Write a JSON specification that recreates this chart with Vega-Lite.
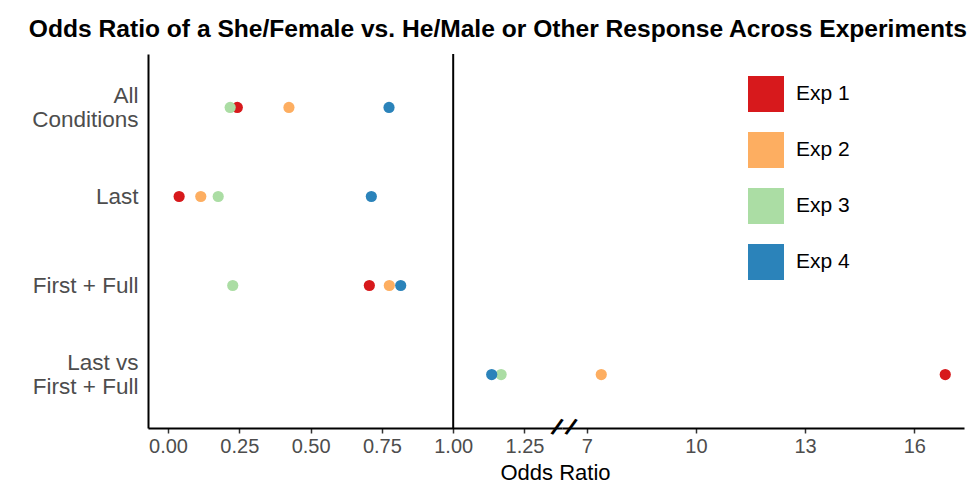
{
  "$schema": "https://vega.github.io/schema/vega-lite/v6.json",
  "padding": {"left": 28, "top": 17, "right": 4, "bottom": 4},
  "background": "white",
  "bounds": "flush",
  "title": {
    "text": "Odds Ratio of a She/Female vs. He/Male or Other Response Across Experiments",
    "font": "Liberation Sans",
    "fontSize": 24.6,
    "fontWeight": "bold",
    "color": "black",
    "anchor": "middle",
    "offset": 10
  },
  "datasets": {
    "pts": [
      {"cond": "All Conditions", "exp": "Exp 1", "odds": 0.243},
      {"cond": "Last", "exp": "Exp 1", "odds": 0.039},
      {"cond": "First + Full", "exp": "Exp 1", "odds": 0.706},
      {"cond": "Last vs First + Full", "exp": "Exp 1", "odds": 16.85},
      {"cond": "All Conditions", "exp": "Exp 2", "odds": 0.424},
      {"cond": "Last", "exp": "Exp 2", "odds": 0.115},
      {"cond": "First + Full", "exp": "Exp 2", "odds": 0.776},
      {"cond": "Last vs First + Full", "exp": "Exp 2", "odds": 7.40},
      {"cond": "All Conditions", "exp": "Exp 3", "odds": 0.218},
      {"cond": "Last", "exp": "Exp 3", "odds": 0.176},
      {"cond": "First + Full", "exp": "Exp 3", "odds": 0.227},
      {"cond": "Last vs First + Full", "exp": "Exp 3", "odds": 1.168},
      {"cond": "All Conditions", "exp": "Exp 4", "odds": 0.775},
      {"cond": "Last", "exp": "Exp 4", "odds": 0.713},
      {"cond": "First + Full", "exp": "Exp 4", "odds": 0.816},
      {"cond": "Last vs First + Full", "exp": "Exp 4", "odds": 1.135}
    ]
  },
  "config": {
    "view": {"stroke": null},
    "font": "Liberation Sans",
    "axis": {"grid": false}
  },
  "spacing": 0,
  "resolve": {"scale": {"x": "independent", "y": "shared", "color": "shared"}},
  "hconcat": [
    {
      "width": 414,
      "height": 374,
      "layer": [
        {
          "data": {"values": [{}]},
          "mark": {"type": "rule", "color": "black", "strokeWidth": 2},
          "encoding": {"x": {"datum": 1, "type": "quantitative"}}
        },
        {
          "data": {"name": "pts"},
          "transform": [{"filter": "datum.odds < 3"}],
          "mark": {"type": "point", "filled": true, "size": 125, "opacity": 1},
          "encoding": {
            "x": {
              "field": "odds",
              "type": "quantitative",
              "scale": {"domain": [-0.0701, 1.3815], "nice": false, "zero": false},
              "axis": {
                "values": [0, 0.25, 0.5, 0.75, 1, 1.25],
                "format": ".2f",
                "title": "Odds Ratio",
                "titleX": 407,
                "titleY": 51,
                "titleAlign": "center",
                "titleBaseline": "alphabetic",
                "titleFontSize": 22,
                "titleFontWeight": "normal",
                "titleColor": "black",
                "labelFontSize": 20,
                "labelColor": "#4d4d4d",
                "labelPadding": 3,
                "labelFlush": false,
                "labelOverlap": false,
                "tickColor": "#333333",
                "tickSize": 5,
                "tickWidth": 1.5,
                "domainColor": "black",
                "domainWidth": 2
              }
            },
            "y": {
              "field": "cond",
              "type": "nominal",
              "sort": ["All Conditions", "Last", "First + Full", "Last vs First + Full"],
              "scale": {"type": "point", "padding": 0.6},
              "axis": {
                "title": null,
                "ticks": false,
                "labelPadding": 10,
                "labelFontSize": 22.5,
                "labelColor": "#4d4d4d",
                "labelLineHeight": 24,
                "labelOffset": {"condition": {"test": "datum.value == 'All Conditions' || datum.value == 'Last vs First + Full'", "value": -12}, "value": 0},
                "labelExpr": "datum.value == 'All Conditions' ? ['All', 'Conditions'] : datum.value == 'Last vs First + Full' ? ['Last vs', 'First + Full'] : datum.label",
                "domainColor": "black",
                "domainWidth": 2
              }
            },
            "color": {
              "field": "exp",
              "type": "nominal",
              "scale": {
                "domain": ["Exp 1", "Exp 2", "Exp 3", "Exp 4"],
                "range": ["#d7191c", "#fdae61", "#abdda4", "#2b83ba"]
              },
              "legend": {
                "title": null,
                "orient": "none",
                "legendX": 600,
                "legendY": 22,
                "symbolType": "square",
                "symbolSize": 1296,
                "symbolStrokeWidth": 0,
                "symbolOpacity": 1,
                "labelFontSize": 21,
                "labelColor": "black",
                "labelOffset": 12,
                "rowPadding": 20,
                "padding": 0
              }
            }
          }
        }
      ]
    },
    {
      "width": 402,
      "height": 374,
      "layer": [
        {
          "data": {"name": "pts"},
          "transform": [{"filter": "datum.odds >= 3"}],
          "mark": {"type": "point", "filled": true, "size": 125, "opacity": 1},
          "encoding": {
            "x": {
              "field": "odds",
              "type": "quantitative",
              "scale": {"domain": [6.321, 17.365], "nice": false, "zero": false},
              "axis": {
                "values": [7, 10, 13, 16],
                "format": "d",
                "title": null,
                "labelFontSize": 20,
                "labelColor": "#4d4d4d",
                "labelPadding": 3,
                "labelFlush": false,
                "labelOverlap": false,
                "tickColor": "#333333",
                "tickSize": 5,
                "tickWidth": 1.5,
                "domainColor": "black",
                "domainWidth": 2
              }
            },
            "y": {
              "field": "cond",
              "type": "nominal",
              "sort": ["All Conditions", "Last", "First + Full", "Last vs First + Full"],
              "scale": {"type": "point", "padding": 0.6},
              "axis": null
            },
            "color": {
              "field": "exp",
              "type": "nominal",
              "scale": {
                "domain": ["Exp 1", "Exp 2", "Exp 3", "Exp 4"],
                "range": ["#d7191c", "#fdae61", "#abdda4", "#2b83ba"]
              }
            }
          }
        },
        {
          "data": {"values": [{}]},
          "mark": {"type": "text", "text": "/", "font": "Liberation Sans", "fontSize": 24, "fontWeight": "bold", "angle": 25, "align": "center", "baseline": "middle", "color": "black"},
          "encoding": {
            "x": {"datum": 6.17, "type": "quantitative"},
            "y": {"value": "height"}
          }
        },
        {
          "data": {"values": [{}]},
          "mark": {"type": "text", "text": "/", "font": "Liberation Sans", "fontSize": 24, "fontWeight": "bold", "angle": 25, "align": "center", "baseline": "middle", "color": "black"},
          "encoding": {
            "x": {"datum": 6.555, "type": "quantitative"},
            "y": {"value": "height"}
          }
        }
      ]
    }
  ]
}
